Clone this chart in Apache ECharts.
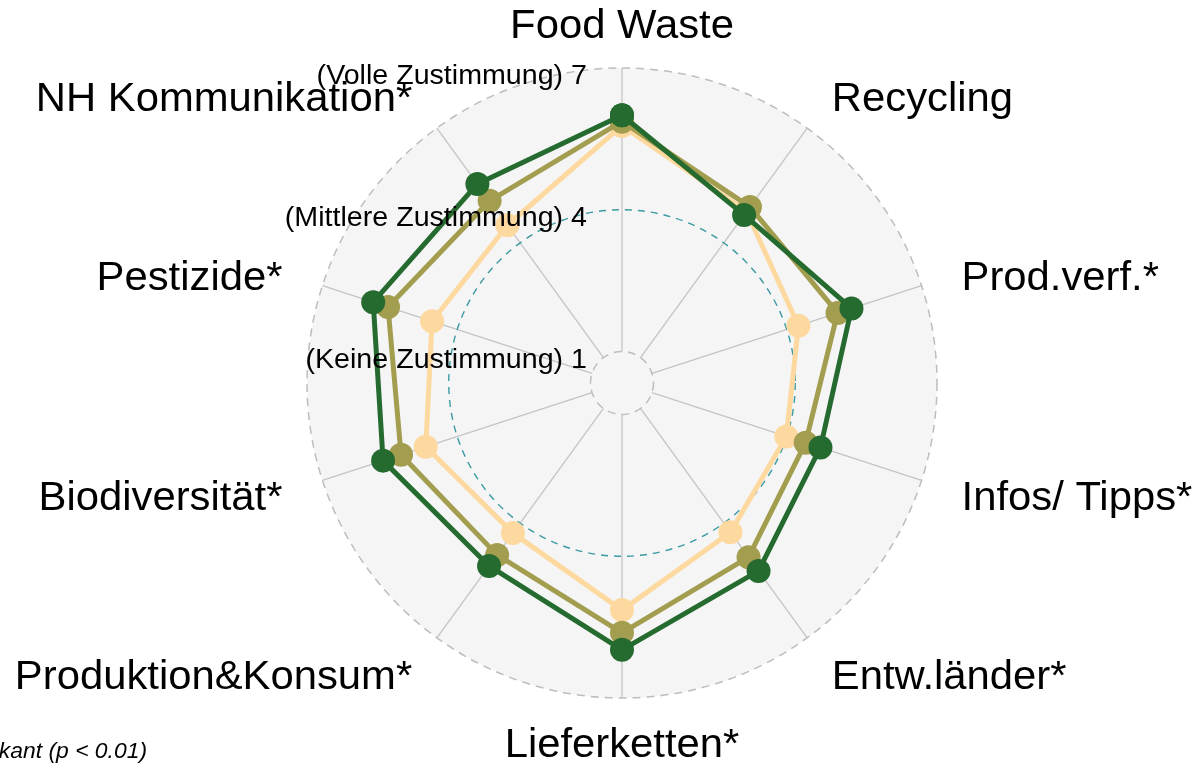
<!DOCTYPE html>
<html><head><meta charset="utf-8">
<script src="https://cdn.jsdelivr.net/npm/echarts@6/dist/echarts.min.js"></script>
<style>html,body{margin:0;padding:0;background:#fff}#c{width:1198px;height:764px}</style>
</head><body><div id="c"></div>
<script>
const categories = ['Food Waste','Recycling','Prod.verf.*','Infos/ Tipps*','Entw.länder*','Lieferketten*','Produktion&Konsum*','Biodiversität*','Pestizide*','NH Kommunikation*'];
const seriesDark  = [6.00,4.73,5.44,4.75,5.25,5.98,5.12,5.65,5.87,5.54];
const seriesOlive = [5.87,4.94,5.13,4.42,4.89,5.62,4.83,5.25,5.54,5.10];
const seriesPeach = [5.78,4.82,4.26,3.99,4.24,5.14,4.26,4.70,4.56,4.46];
const gridLevels = [1,4,7];
const gridLabels = ['(Keine Zustimmung) 1','(Mittlere Zustimmung) 4','(Volle Zustimmung) 7'];
const radiusMin = 1/3;
const radiusMax = 7;
const footnote = '* signifikant (p < 0.01)';

const FONT = '"Liberation Sans", Arial, sans-serif';
const chart = echarts.init(document.getElementById('c'), null, {renderer:'canvas'});
const labelR = radiusMin + (radiusMax - radiusMin) * 357 / 315;

function closed(vals){ const d = vals.map((v,i)=>[v,i]); d.push([vals[0], categories.length]); return d; }
function lineSeries(name, vals, color, z){
  return {type:'line', name, coordinateSystem:'polar', data: closed(vals), symbol:'circle', symbolSize:24,
    showSymbol:true, showAllSymbol:true, lineStyle:{width:5,color}, itemStyle:{color}, z, silent:true, animation:false};
}
function radiusOf(api, v){ const c = api.coord([radiusMin,0]); const e = api.coord([v,0]); return {c, r: Math.hypot(e[0]-c[0], e[1]-c[1])}; }

const option = {
  animation:false,
  polar:{center:[622,383], radius:[0,315]},
  angleAxis:{type:'value', min:0, max:categories.length, startAngle:90, clockwise:true, show:false},
  radiusAxis:{type:'value', min:radiusMin, max:radiusMax, show:false},
  series:[
    {type:'custom', coordinateSystem:'polar', data:[[radiusMax,0]], z:0, silent:true,
      renderItem:(p,api)=>{ const o = radiusOf(api, radiusMax);
        return {type:'circle', shape:{cx:o.c[0], cy:o.c[1], r:o.r}, style:{fill:'#f5f5f5', stroke:null}}; }},
    {type:'custom', coordinateSystem:'polar', data:categories.map((c,i)=>[gridLevels[0], i]), z:1, silent:true,
      renderItem:(p,api)=>{ const i = api.value(1); const a = api.coord([gridLevels[0], i]); const b = api.coord([gridLevels[2], i]);
        return {type:'line', shape:{x1:a[0], y1:a[1], x2:b[0], y2:b[1]}, style:{stroke:'#c4c4c4', lineWidth:1.3}}; }},
    {type:'custom', coordinateSystem:'polar', data:gridLevels.map(l=>[l,0]), z:2, silent:true,
      renderItem:(p,api)=>{ const l = api.value(0); const o = radiusOf(api, l); const mid = p.dataIndex === 1;
        return {type:'circle', shape:{cx:o.c[0], cy:o.c[1], r:o.r},
          style:{fill:null, stroke: mid ? '#3a9aa2' : '#bdbdbd', lineWidth: mid ? 1.4 : 1.5, lineDash: mid ? [7,6] : [8,6]}}; }},
    lineSeries('Gruppe 3', seriesPeach, '#fdd9a0', 3),
    lineSeries('Gruppe 2', seriesOlive, '#a39d4f', 4),
    lineSeries('Gruppe 1', seriesDark, '#256a2f', 5),
    {type:'custom', coordinateSystem:'polar', data:gridLevels.map(l=>[l,0]), z:8, silent:true,
      renderItem:(p,api)=>{ const l = api.value(0); const o = radiusOf(api, l);
        return {type:'text', x:o.c[0]-35, y:o.c[1]-o.r+9, scaleX:1.06,
          style:{text:gridLabels[p.dataIndex], align:'right', verticalAlign:'middle', fill:'#000', font:'27px '+FONT}}; }},
    {type:'custom', coordinateSystem:'polar', data:categories.map((c,i)=>[labelR, i]), z:8, silent:true,
      renderItem:(p,api)=>{ const i = api.value(1); const pt = api.coord([labelR, i]);
        const n = categories.length; let align = 'center';
        if (i > 0 && i < n/2) align = 'left'; else if (i > n/2) align = 'right';
        return {type:'text', x:pt[0], y:pt[1] + (i === 0 ? 1 : 6), scaleX:1.045,
          style:{text:categories[i], align, verticalAlign:'middle', fill:'#000', font:'40px '+FONT}}; }}
  ],
  graphic:[{type:'text', x:147, y:752, scaleX:1.04, style:{text:footnote, align:'right', verticalAlign:'middle', fill:'#000', font:'italic 22px '+FONT}}]
};
chart.setOption(option);
</script></body></html>
